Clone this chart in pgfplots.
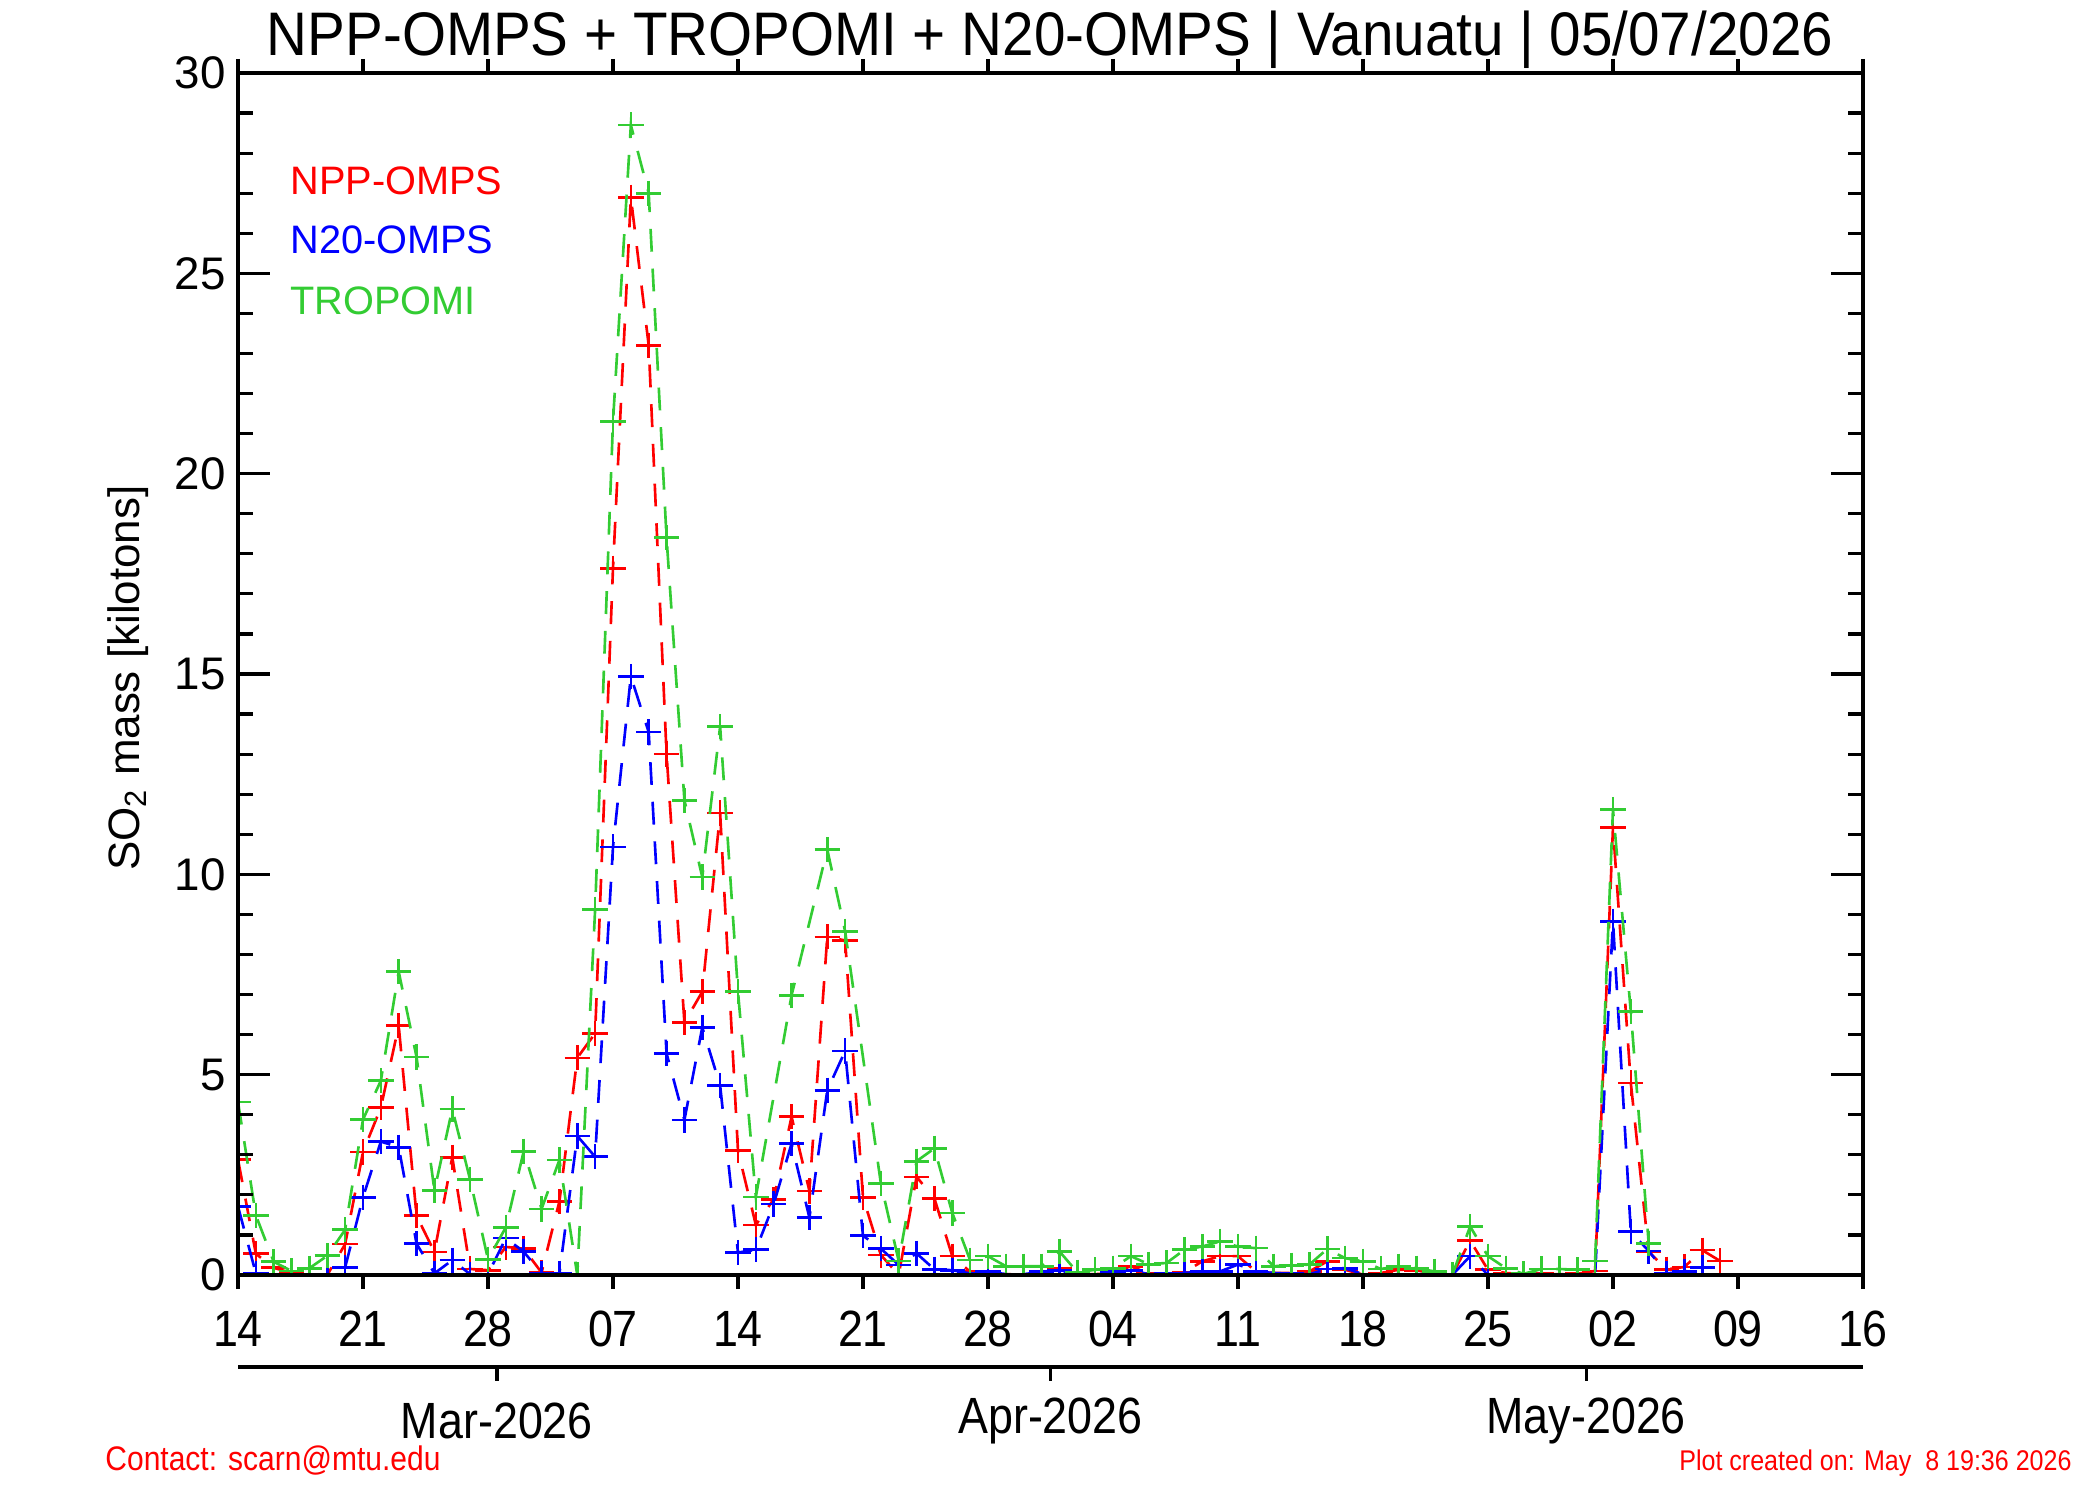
\documentclass[border=0pt]{standalone}
\usepackage{fontspec}
\setmainfont{Liberation Sans}
\newfontfamily\narrow[FakeStretch=0.88]{Liberation Sans}
\newfontfamily\titlefont[FakeStretch=0.92]{Liberation Sans}
\usepackage{pgfplots}
\usepackage{pgfplotstable}
\pgfplotsset{compat=1.18}
\definecolor{ired}{rgb}{1,0,0}
\definecolor{iblue}{rgb}{0,0,1}
\definecolor{igreen}{rgb}{0.2,0.8,0.2}

\pgfplotstableread{
d v
0 2.88
1 0.53
2 0.18
3 0.05
4 0.0
5 0.0
6 0.77
7 3.07
8 4.18
9 6.22
10 1.48
11 0.57
12 2.94
13 0.15
14 0.12
15 0.70
16 0.66
17 0.06
18 1.84
19 5.42
20 6.03
21 17.64
22 26.90
23 23.20
24 13.00
25 6.30
26 7.07
27 11.53
28 3.10
29 1.25
30 1.89
31 3.95
32 2.10
33 8.44
34 8.35
35 1.94
36 0.50
37 0.0
38 2.45
39 1.91
40 0.47
41 0.08
42 0.03
43 0.02
44 0.01
45 0.02
46 0.17
47 0.02
48 0.02
49 0.05
50 0.22
51 0.03
52 0.03
53 0.07
54 0.34
55 0.47
56 0.47
57 0.09
58 0.05
59 0.05
60 0.09
61 0.34
62 0.13
63 0.01
64 0.05
65 0.13
66 0.12
67 0.03
68 0.0
69 0.86
70 0.13
71 0.05
72 0.02
73 0.03
74 0.02
75 0.03
76 0.10
77 11.17
78 4.79
79 0.58
80 0.14
81 0.20
82 0.62
83 0.35
}\npp

\pgfplotstableread{
d v
0 1.71
1 0.04
2 0.0
3 0.0
4 0.0
5 0.0
6 0.19
7 1.94
8 3.33
9 3.19
10 0.78
11 0.04
12 0.37
13 0.02
14 0.02
15 0.92
16 0.58
17 0.04
18 0.04
19 3.47
20 2.95
21 10.68
22 14.94
23 13.55
24 5.53
25 3.87
26 6.18
27 4.73
28 0.56
29 0.63
30 1.77
31 3.28
32 1.43
33 4.61
34 5.59
35 0.98
36 0.66
37 0.25
38 0.54
39 0.14
40 0.12
41 0.04
42 0.09
43 0.02
44 0.02
45 0.08
46 0.12
47 0.0
48 0.02
49 0.08
50 0.12
51 0.02
52 0.03
53 0.05
54 0.09
55 0.09
56 0.26
57 0.09
58 0.05
59 0.03
60 0.02
61 0.15
62 0.17
63 0.02
64 0.0
65 0.02
66 0.02
67 0.01
68 0.0
69 0.47
70 0.0
71 0.0
72 0.01
73 0.02
74 0.01
75 0.01
76 0.01
77 8.83
78 1.08
79 0.60
80 0.04
81 0.08
82 0.18
}\nxx

\pgfplotstableread{
d v
0 4.32
1 1.49
2 0.33
3 0.10
4 0.17
5 0.48
6 1.13
7 3.88
8 4.85
9 7.57
10 5.44
11 2.11
12 4.14
13 2.38
14 0.39
15 1.19
16 3.09
17 1.65
18 2.87
19 0.0
20 9.13
21 21.30
22 28.70
23 27.00
24 18.40
25 11.85
26 9.93
27 13.69
28 7.07
29 1.95
31 6.98
33 10.62
34 8.58
36 2.29
37 0.35
38 2.84
39 3.16
40 1.55
41 0.37
42 0.47
43 0.22
44 0.22
45 0.22
46 0.59
47 0.07
48 0.13
49 0.17
50 0.47
51 0.27
52 0.30
53 0.63
54 0.71
55 0.84
56 0.71
57 0.67
58 0.22
59 0.24
60 0.26
61 0.65
62 0.42
63 0.34
64 0.15
65 0.22
66 0.17
67 0.09
68 0.0
69 1.21
70 0.47
71 0.17
72 0.03
73 0.15
74 0.15
75 0.13
76 0.35
77 11.62
78 6.57
79 0.79
}\trop

\pgfplotsset{
  series/.style={line width=0.75pt, dash pattern=on 6.5pt off 4.8pt, mark=+, mark size=3.6pt, mark options={solid, line width=0.75pt}},
}

\begin{document}
\begin{tikzpicture}
\path[use as bounding box] (0,0) rectangle (21cm,15cm);
% data axis with outside x ticks
\begin{axis}[
  at={(2.38cm,2.25cm)}, anchor=south west, scale only axis,
  width=16.25cm, height=12.02cm,
  xmin=0, xmax=91, ymin=0, ymax=30,
  axis line style={line width=0.9pt},
  xtick={0,7,...,91},
  xticklabels={14,21,28,07,14,21,28,04,11,18,25,02,09,16},
  xtick pos=both, tick align=outside,
  major tick length=0.14cm,
  tick style={black, line width=0.9pt},
  xticklabel style={font=\narrow\fontsize{14.5}{14.5}\selectfont, anchor=base, yshift=-0.57cm},
  ytick=\empty,
  clip marker paths=true,
]
\addplot[ired, series] table[x=d,y=v]{\npp};
\addplot[iblue, series] table[x=d,y=v]{\nxx};
\addplot[igreen, series] table[x=d,y=v]{\trop};
\end{axis}
% y ticks inside
\begin{axis}[
  at={(2.38cm,2.25cm)}, anchor=south west, scale only axis,
  width=16.25cm, height=12.02cm,
  xmin=0, xmax=91, ymin=0, ymax=30,
  axis line style={line width=0.9pt},
  xtick=\empty,
  ytick={0,5,...,30}, minor y tick num=4,
  ytick pos=both, tick align=inside,
  major tick length=0.32cm, minor tick length=0.15cm,
  tick style={black, line width=0.9pt},
  /pgf/number format/assume math mode=true,
  yticklabel style={font=\fontsize{13}{13}\selectfont},
]
\end{axis}
% title
\node[font=\titlefont\fontsize{17.5}{17.5}\selectfont] at (10.5cm,14.60cm) {NPP-OMPS + TROPOMI + N20-OMPS | Vanuatu | 05/07/2026};
% y label
\node[rotate=90, font=\fontsize{12.5}{12.5}\selectfont] at (1.28cm,8.22cm) {SO\textsubscript{2} mass [kilotons]};
% legend
\node[anchor=west, text=ired, font=\fontsize{11.3}{11.3}\selectfont] at (2.78cm,13.19cm) {NPP-OMPS};
\node[anchor=west, text=iblue, font=\fontsize{11.3}{11.3}\selectfont] at (2.78cm,12.60cm) {N20-OMPS};
\node[anchor=west, text=igreen, font=\fontsize{11.3}{11.3}\selectfont] at (2.78cm,11.99cm) {TROPOMI};
% month axis
\draw[line width=0.9pt] (2.38cm,1.33cm) -- (18.63cm,1.33cm);
\foreach \d/\m in {14.5/Mar-2026,45.5/Apr-2026,75.5/May-2026}{
  \pgfmathsetmacro\xx{2.38+\d*16.25/91}
  \draw[line width=0.9pt] (\xx cm,1.33cm) -- ++(0,-0.14cm);
  \node[font=\narrow\fontsize{14.5}{14.5}\selectfont] at (\xx cm,0.79cm) {\m};
}
% footer
\node[anchor=west, text=ired, font=\narrow\fontsize{9.7}{9.7}\selectfont] at (0.93cm,0.39cm) {Contact: scarn@mtu.edu};
\node[anchor=east, text=ired, font=\narrow\fontsize{8.1}{8.1}\selectfont] at (20.84cm,0.37cm) {Plot created on: May\ \ 8 19:36 2026};
\end{tikzpicture}
\end{document}
